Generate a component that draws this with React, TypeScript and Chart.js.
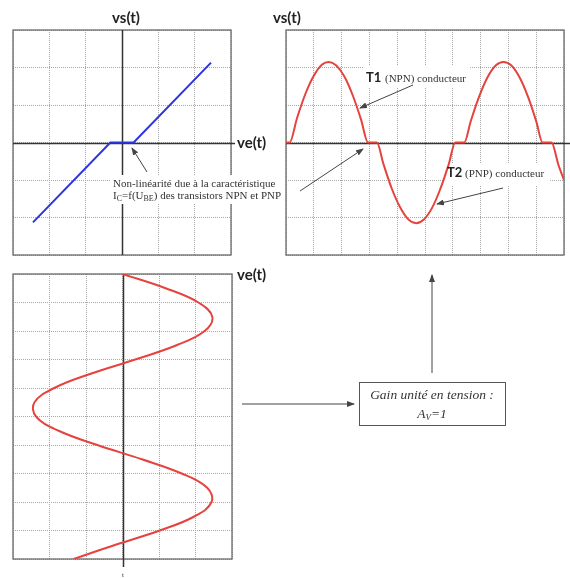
import React, { useEffect, useRef } from "react";
import { Chart, registerables } from "chart.js";

Chart.register(...registerables);

// ---- Data ----
// Transfer characteristic vs = f(ve) (plot 1)
const transferVe = [-2.45, -0.32, 0.32, 2.45];
const transferVs = [-2.13, 0, 0, 2.13];

// Output vs(t) with crossover distortion (plot 2)
const outT = [0, 0.13, 0.4, 0.7, 1.0, 1.3, 1.54, 1.8, 2.1, 2.4, 2.7, 2.95, 3.27, 3.5, 3.8, 4.1, 4.4, 4.68, 4.95, 5.25, 5.55, 5.85, 6.09, 6.41, 6.65, 6.95, 7.25, 7.55, 7.82, 8.1, 8.4, 8.7, 9.0, 9.23, 9.55, 9.8, 10];
const outVs = [0, 0, 0.66, 1.3, 1.78, 2.08, 2.15, 2.06, 1.76, 1.26, 0.61, 0, 0, -0.56, -1.22, -1.72, -2.05, -2.15, -2.06, -1.75, -1.24, -0.59, 0, 0, 0.58, 1.23, 1.74, 2.06, 2.15, 2.06, 1.74, 1.23, 0.57, 0, 0, -0.6, -1.0];

// Input ve(t) (plot 3, time runs downward)
const inT = [0, 0.5, 1.0, 1.5, 2.0, 2.5, 3.0, 3.5, 4.0, 4.5, 5.0, 5.5, 6.0, 6.5, 7.0, 7.5, 8.0, 8.5, 9.0, 9.5, 10.0];
const inVe = [0, 1.18, 2.08, 2.46, 2.25, 1.48, 0.35, -0.87, -1.87, -2.41, -2.37, -1.75, -0.69, 0.53, 1.62, 2.32, 2.44, 1.98, 1.02, -0.19, -1.34];

// Grid ranges
const symRange = [-3, 3];
const timeRange = [0, 10];

const RED = "#e5433d";
const BLUE = "#2c34e0";

const frameAxes = {
  id: "frameAxes",
  beforeDatasetsDraw(chart: any, _args: any, opts: any) {
    const { ctx, chartArea: a, scales } = chart;
    ctx.save();
    (opts.masks || []).forEach((m: number[]) => {
      ctx.fillStyle = "#fff";
      ctx.fillRect(m[0], m[1], m[2], m[3]);
    });
    ctx.strokeStyle = "#6a6a6a";
    ctx.lineWidth = 1.3;
    ctx.strokeRect(a.left, a.top, a.right - a.left, a.bottom - a.top);
    ctx.strokeStyle = "#333";
    ctx.lineWidth = 1.5;
    if (opts.hAxis !== undefined) {
      const y = Math.round(scales.y.getPixelForValue(opts.hAxis)) + 0.5;
      ctx.beginPath();
      ctx.moveTo(a.left, y);
      ctx.lineTo(a.right + (opts.hExtend || 0), y);
      ctx.stroke();
    }
    if (opts.vAxis !== undefined) {
      const x = Math.round(scales.x.getPixelForValue(opts.vAxis)) + 0.5;
      ctx.beginPath();
      ctx.moveTo(x, a.top);
      ctx.lineTo(x, a.bottom + (opts.vExtend || 0));
      ctx.stroke();
    }
    ctx.restore();
  },
};

function axis(range: number[], reverse = false) {
  return {
    type: "linear" as const,
    min: range[0],
    max: range[1],
    reverse,
    ticks: { display: false, stepSize: 1 },
    grid: { color: "#a8a8a8", lineWidth: 1, drawTicks: false },
    border: { display: false, dash: [1, 1] },
  };
}

function useChart(build: () => any) {
  const ref = useRef<HTMLCanvasElement | null>(null);
  useEffect(() => {
    if (!ref.current) return;
    const chart = new Chart(ref.current, build());
    return () => chart.destroy();
  }, []);
  return ref;
}

function baseOptions(padding: any, frame: any, xs: any, ys: any) {
  return {
    responsive: false,
    animation: false,
    devicePixelRatio: 1,
    layout: { padding },
    plugins: { legend: { display: false }, tooltip: { enabled: false }, frameAxes: frame },
    scales: { x: xs, y: ys },
    elements: { point: { radius: 0 } },
  };
}

export default function App() {
  const c1 = useChart(() => ({
    type: "line",
    data: {
      datasets: [
        {
          data: transferVe.map((v, i) => ({ x: v, y: transferVs[i] })),
          borderColor: BLUE,
          borderWidth: 2,
          tension: 0,
        },
      ],
    },
    options: baseOptions({ left: 10, top: 10, right: 12, bottom: 10 }, { hAxis: 0, vAxis: 0, hExtend: 4 }, axis(symRange), axis(symRange)),
    plugins: [frameAxes],
  }));
  const c2 = useChart(() => ({
    type: "line",
    data: {
      datasets: [
        {
          data: outT.map((t, i) => ({ x: t, y: outVs[i] })),
          borderColor: RED,
          borderWidth: 2,
          cubicInterpolationMode: "monotone",
        },
      ],
    },
    options: baseOptions(
      { left: 10, top: 10, right: 6, bottom: 10 },
      { hAxis: 0, hExtend: 6, masks: [[87, 45, 106, 23], [167, 144, 106, 21]] },
      axis(timeRange),
      axis(symRange)
    ),
    plugins: [frameAxes],
  }));
  const c3 = useChart(() => ({
    type: "line",
    data: {
      datasets: [
        {
          data: inT.map((t, i) => ({ x: inVe[i], y: t })),
          borderColor: RED,
          borderWidth: 2,
          tension: 0.4,
        },
      ],
    },
    options: baseOptions({ left: 10, top: 10, right: 11, bottom: 19 }, { vAxis: 0, vExtend: 8 }, axis(symRange), axis(timeRange, true)),
    plugins: [frameAxes],
  }));

  const abs = (l: number, t: number): React.CSSProperties => ({ position: "absolute", left: l, top: t });
  const serif = "'Liberation Serif', 'DejaVu Serif', serif";
  const sans = "Lato, 'Open Sans', sans-serif";
  const arrowColor = "#444";

  return (
    <div style={{ position: "absolute", left: 0, top: 0, width: 570, height: 578, background: "#fff", overflow: "hidden" }}>
      <canvas ref={c1} width={240} height={245} style={abs(3, 20)} />
      <canvas ref={c2} width={294} height={245} style={abs(276, 20)} />
      <canvas ref={c3} width={240} height={314} style={abs(3, 264)} />
      <svg width={570} height={578} style={{ position: "absolute", left: 0, top: 0, pointerEvents: "none" }}>
        <defs>
          <marker id="ah" markerWidth="8" markerHeight="6" refX="7" refY="3" orient="auto" markerUnits="userSpaceOnUse">
            <path d="M0,0 L8,3 L0,6 z" fill={arrowColor} />
          </marker>
        </defs>
        {/* axis labels */}
        <g fontFamily={sans} fontWeight="bold" fontSize="15" fill="#222">
          <text x={126} y={23} textAnchor="middle">vs(t)</text>
          <text x={237} y={148}>ve(t)</text>
          <text x={273} y={23}>vs(t)</text>
          <text x={237} y={280}>ve(t)</text>
        </g>
        <text x={123} y={577} textAnchor="middle" fontFamily={serif} fontSize="7" fill="#333">t</text>

        {/* annotation background over plot 1 */}
        <rect x={111} y={175} width={122} height={29} fill="#fff" />

        {/* arrows */}
        <g stroke={arrowColor} strokeWidth={1} fill="none">
          <line x1={147} y1={172} x2={132} y2={148} markerEnd="url(#ah)" />
          <line x1={300} y1={191} x2={363} y2={149} markerEnd="url(#ah)" />
          <line x1={413} y1={85} x2={360} y2={108} markerEnd="url(#ah)" />
          <line x1={503} y1={188} x2={437} y2={204} markerEnd="url(#ah)" />
          <line x1={432} y1={373} x2={432} y2={275} markerEnd="url(#ah)" />
          <line x1={242} y1={404} x2={354} y2={404} markerEnd="url(#ah)" />
        </g>

        {/* annotation texts */}
        <g fontFamily={serif} fontSize="11" fill="#333">
          <text x={113} y={187}>Non-linéarité due à la caractéristique</text>
          <text x={113} y={199}>
            I<tspan fontSize="8" dy="2">C</tspan>
            <tspan dy="-2">=f(U</tspan>
            <tspan fontSize="8" dy="2">BE</tspan>
            <tspan dy="-2">) des transistors NPN et PNP</tspan>
          </text>
          <text x={385} y={82}>(NPN) conducteur</text>
          <text x={465} y={177}>(PNP) conducteur</text>
        </g>
        <g fontFamily={sans} fontWeight="bold" fontSize="13" fill="#222">
          <text x={366} y={82}>T1</text>
          <text x={447} y={177}>T2</text>
        </g>

        {/* gain box */}
        <rect x={359.5} y={382.5} width={146} height={43} fill="#fff" stroke="#555" strokeWidth={1} />
        <g fontFamily={serif} fontStyle="italic" fontSize="13.5" fill="#333" textAnchor="middle">
          <text x={432} y={399}>Gain unité en tension :</text>
          <text x={432} y={418}>
            A<tspan fontSize="9" dy="2">V</tspan>
            <tspan dy="-2">=1</tspan>
          </text>
        </g>
      </svg>
    </div>
  );
}
